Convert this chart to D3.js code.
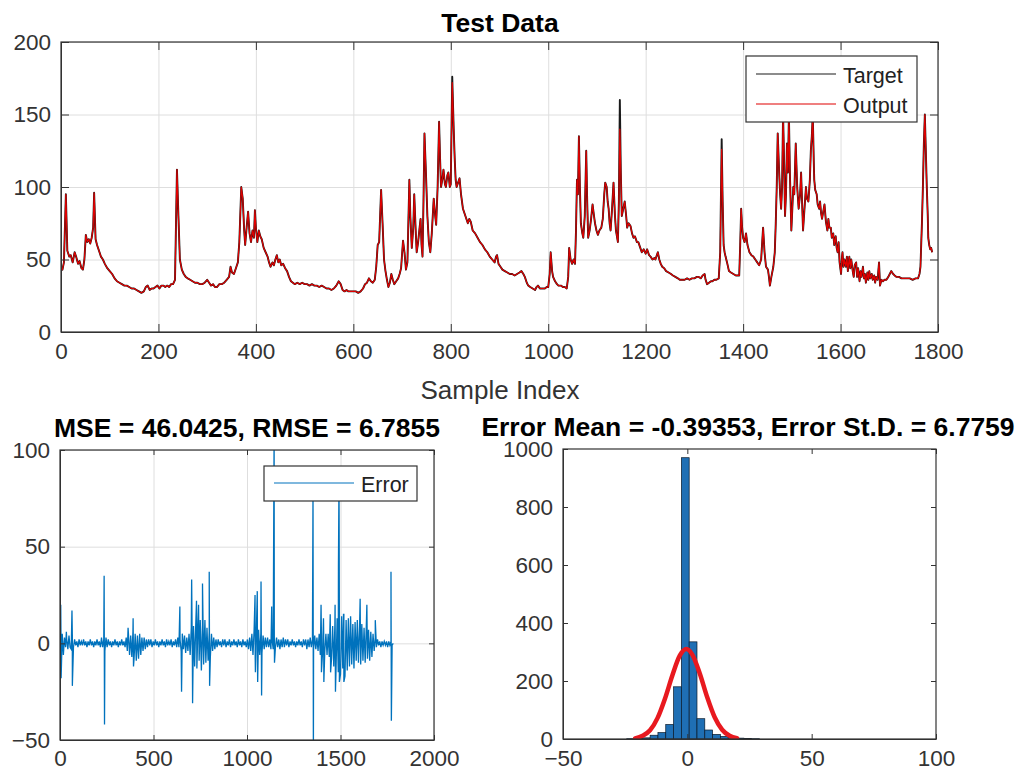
<!DOCTYPE html>
<html lang='en'>

<head>
    <meta charset='UTF-8'>
    <title>Test Data</title>
    <script src='https://d3js.org/d3.v7.min.js' charset='utf-8'></script>
    <style>
        body {
            margin: 0px;
            background: #fff;
            overflow: hidden;
        }

        text {
            font-family: 'Liberation Sans', Arial, sans-serif;
        }

        .grid line {
            stroke: #dedede;
            stroke-width: 1;
        }

        .tick-labels text {
            font-size: 22.5px;
            fill: #333;
        }

        .tick-labels line,
        .tick-labels path,
        .no-labels line {
            stroke: #333;
        }
    </style>
</head>

<body>
    <div id='chart'></div>
    <script>
        'use strict';

        // ---- data ----
        const topXTicks = [0, 200, 400, 600, 800, 1000, 1200, 1400, 1600, 1800];
        const topYTicks = [0, 50, 100, 150, 200];
        const errXTicks = [0, 500, 1000, 1500, 2000];
        const errYTicks = [-50, 0, 50, 100];
        const histXTicks = [-50, 0, 50, 100];
        const histYTicks = [0, 200, 400, 600, 800, 1000];

        // [sample index, value]
        const targetSeries = [
            [0, 45], [3, 43], [6, 48], [10, 95], [13, 56], [17, 52], [20, 53], [24, 48], [28, 55], [31, 52],
            [35, 47], [38, 49], [42, 44], [45, 43], [48, 50], [51, 67], [54, 62], [57, 64], [60, 61], [63, 65],
            [66, 72], [68, 96], [71, 64], [74, 60], [78, 56], [82, 52], [86, 50], [90, 47], [95, 44], [100, 42],
            [105, 40], [110, 37], [115, 35], [120, 34], [125, 33], [130, 32], [135, 32], [140, 31], [145, 30], [150, 30],
            [155, 29], [160, 28], [165, 27], [170, 28], [174, 31], [178, 32], [182, 29], [186, 30], [190, 30], [194, 31],
            [198, 32], [202, 30], [206, 32], [210, 32], [214, 31], [218, 32], [222, 31], [226, 33], [230, 33], [234, 36],
            [238, 112], [241, 80], [244, 50], [248, 43], [252, 40], [256, 38], [260, 37], [265, 36], [270, 35], [275, 34],
            [280, 34], [285, 33], [290, 33], [295, 34], [300, 36], [304, 34], [308, 32], [312, 33], [316, 31], [320, 31],
            [325, 33], [330, 33], [335, 34], [340, 36], [345, 38], [348, 45], [351, 41], [355, 40], [359, 44], [363, 48],
            [366, 62], [370, 100], [373, 92], [376, 70], [378, 60], [381, 72], [384, 83], [387, 68], [390, 62], [393, 70],
            [396, 65], [398, 84], [400, 72], [403, 62], [406, 70], [409, 66], [412, 64], [416, 58], [420, 55], [424, 52],
            [427, 48], [430, 45], [434, 48], [437, 46], [440, 50], [443, 53], [446, 48], [449, 50], [452, 46], [456, 47],
            [460, 44], [464, 42], [468, 38], [472, 35], [476, 34], [480, 33], [485, 34], [490, 33], [495, 34], [500, 33],
            [505, 33], [510, 32], [515, 33], [520, 32], [525, 32], [530, 31], [535, 32], [540, 31], [545, 30], [550, 30],
            [555, 29], [560, 30], [565, 32], [570, 35], [574, 33], [578, 29], [582, 28], [586, 29], [590, 28], [595, 28],
            [600, 28], [605, 28], [610, 27], [615, 28], [620, 30], [624, 33], [628, 34], [632, 37], [636, 35], [640, 34],
            [644, 36], [647, 45], [650, 60], [653, 62], [657, 98], [660, 75], [663, 50], [666, 42], [669, 36], [672, 31],
            [675, 34], [678, 40], [681, 36], [684, 33], [688, 35], [692, 37], [695, 40], [698, 44], [702, 63], [705, 55],
            [708, 43], [711, 48], [715, 105], [717, 80], [720, 58], [723, 72], [725, 95], [728, 70], [730, 55], [733, 62],
            [736, 72], [738, 78], [740, 60], [742, 52], [744, 90], [746, 137], [749, 110], [752, 80], [755, 62], [758, 55],
            [761, 68], [765, 92], [768, 80], [770, 74], [773, 100], [776, 145], [778, 120], [780, 100], [783, 106], [785, 112],
            [788, 102], [790, 100], [793, 108], [795, 110], [798, 100], [800, 102], [803, 176], [806, 140], [808, 120], [810, 105],
            [812, 100], [815, 103], [818, 106], [821, 95], [825, 85], [830, 80], [835, 75], [838, 78], [841, 76], [845, 70],
            [850, 68], [855, 65], [860, 62], [865, 60], [870, 57], [875, 55], [880, 52], [885, 50], [890, 48], [893, 52],
            [895, 53], [898, 47], [902, 45], [906, 43], [911, 42], [916, 41], [921, 40], [926, 40], [931, 39], [936, 40],
            [941, 41], [945, 42], [949, 40], [952, 38], [956, 34], [959, 32], [963, 31], [968, 30], [973, 29], [976, 31],
            [979, 32], [983, 30], [988, 30], [993, 30], [997, 31], [1000, 31], [1003, 40], [1005, 55], [1008, 42], [1010, 38],
            [1014, 35], [1018, 33], [1021, 32], [1026, 32], [1030, 31], [1034, 31], [1038, 30], [1041, 38], [1043, 58], [1046, 50],
            [1049, 47], [1052, 50], [1055, 47], [1057, 70], [1059, 105], [1061, 95], [1063, 135], [1065, 100], [1067, 75], [1070, 68],
            [1072, 65], [1075, 80], [1078, 125], [1080, 90], [1082, 65], [1085, 70], [1088, 78], [1091, 88], [1094, 80], [1096, 75],
            [1099, 70], [1102, 67], [1105, 70], [1109, 72], [1112, 78], [1115, 95], [1117, 103], [1120, 100], [1122, 90], [1124, 85],
            [1126, 75], [1128, 70], [1131, 85], [1134, 103], [1137, 80], [1139, 70], [1141, 66], [1143, 62], [1145, 90], [1147, 160],
            [1149, 110], [1151, 80], [1154, 85], [1157, 90], [1160, 80], [1162, 72], [1165, 75], [1169, 73], [1172, 68], [1175, 65],
            [1178, 66], [1182, 62], [1185, 62], [1189, 58], [1192, 55], [1196, 57], [1200, 54], [1203, 57], [1207, 53], [1210, 52],
            [1214, 50], [1218, 51], [1220, 50], [1223, 53], [1225, 55], [1228, 50], [1231, 47], [1234, 45], [1238, 44], [1242, 42],
            [1247, 41], [1252, 40], [1256, 39], [1261, 38], [1266, 37], [1270, 36], [1275, 36], [1280, 36], [1285, 37], [1290, 36],
            [1295, 37], [1300, 37], [1305, 38], [1309, 38], [1313, 37], [1317, 39], [1321, 40], [1323, 36], [1326, 33], [1330, 34],
            [1334, 35], [1337, 35], [1341, 36], [1345, 36], [1350, 37], [1353, 55], [1356, 133], [1358, 90], [1360, 60], [1362, 55],
            [1364, 52], [1367, 48], [1371, 42], [1375, 41], [1380, 40], [1385, 39], [1389, 39], [1392, 39], [1394, 60], [1396, 85],
            [1398, 72], [1400, 65], [1403, 62], [1406, 68], [1409, 60], [1413, 55], [1417, 53], [1421, 52], [1425, 50], [1429, 48],
            [1433, 46], [1437, 50], [1441, 72], [1444, 55], [1447, 45], [1451, 43], [1453, 38], [1455, 32], [1458, 38], [1462, 45],
            [1465, 55], [1467, 75], [1469, 100], [1471, 137], [1474, 110], [1476, 95], [1478, 85], [1480, 100], [1482, 150], [1484, 120],
            [1486, 80], [1488, 95], [1490, 130], [1492, 110], [1494, 150], [1496, 110], [1499, 70], [1501, 85], [1503, 100], [1505, 95],
            [1508, 130], [1511, 100], [1514, 85], [1517, 95], [1519, 110], [1521, 90], [1523, 70], [1526, 85], [1529, 100], [1531, 92],
            [1534, 90], [1537, 105], [1539, 125], [1541, 135], [1543, 150], [1545, 118], [1546, 105], [1548, 98], [1551, 95], [1553, 88],
            [1556, 85], [1558, 90], [1560, 82], [1562, 78], [1565, 84], [1567, 88], [1570, 76], [1573, 70], [1575, 78], [1577, 72],
            [1580, 72], [1582, 65], [1585, 68], [1587, 60], [1590, 66], [1592, 58], [1594, 55], [1596, 62], [1598, 48], [1601, 40],
            [1603, 52], [1604, 55], [1606, 45], [1608, 50], [1611, 45], [1613, 52], [1615, 42], [1618, 52], [1620, 44], [1622, 50],
            [1625, 42], [1627, 38], [1629, 46], [1632, 48], [1634, 38], [1636, 44], [1639, 35], [1641, 42], [1643, 38], [1646, 45],
            [1648, 37], [1650, 40], [1652, 34], [1655, 41], [1657, 36], [1659, 42], [1661, 37], [1664, 40], [1666, 36], [1669, 39],
            [1671, 34], [1673, 38], [1676, 36], [1679, 48], [1681, 32], [1684, 36], [1687, 35], [1690, 36], [1694, 36], [1698, 38],
            [1701, 40], [1704, 42], [1708, 40], [1711, 39], [1715, 38], [1720, 38], [1725, 37], [1730, 37], [1736, 37], [1742, 37],
            [1748, 36], [1754, 37], [1759, 37], [1762, 40], [1764, 45], [1767, 75], [1769, 100], [1771, 130], [1773, 150], [1775, 125],
            [1777, 100], [1779, 80], [1780, 65], [1782, 60], [1784, 57], [1786, 58], [1788, 55]
        ];
        // where the network output visibly differs from the target
        const outputDiffs = [[1147, 140], [1356, 126], [803, 172]];

        // error: background noise every 6 samples, plus the large spikes
        const errStep = 6;
        const errNoise = [
            8, -7, 5, -6, 3, -2, 2, -3, 4, -2,
            -3, 4, -2, 2, -1, 1, -2, 2, -1, 1,
            -1, 2, -1, 1, -2, 1, -1, 2, -1, 1,
            -2, 1, -1, 2, -1, 1, -2, 3, -2, 2,
            -4, 3, -2, 2, -1, 1, -2, 1, -1, 2,
            -1, 1, -2, 1, -1, 2, -1, 1, -2, 3,
            -4, 5, -6, 4, -7, 6, -8, 5, -9, 4,
            -8, 5, -6, 3, -4, 3, -3, 2, -2, 2,
            -1, 2, -2, 1, -1, 2, -1, 1, -2, 1,
            -1, 2, -1, 1, -2, 2, -1, 1, -1, 2,
            -2, 1, -1, 2, -2, 3, -2, 2, -4, 5,
            -3, 4, -5, 3, -4, 5, -6, 8, -10, 9,
            -12, 10, -13, 11, -9, 12, -14, 10, -11, 9,
            -10, 8, -9, 6, -7, 5, -4, 3, -3, 2,
            -2, 2, -1, 1, -2, 2, -1, 2, -2, 1,
            -1, 2, -2, 1, -1, 2, -1, 1, -2, 2,
            -1, 1, -2, 2, -1, 1, -2, 2, -3, 3,
            -4, 5, -6, 7, -8, 6, -9, 7, -6, 5,
            -5, 4, -3, 3, -2, 3, -2, 2, -3, 2,
            -3, 4, -2, 3, -2, 2, -3, 2, -2, 3,
            -2, 2, -1, 2, -2, 1, -1, 2, -1, 1,
            -2, 1, -1, 2, -1, 1, -2, 2, -1, 2,
            -3, 2, -2, 3, -2, 2, -3, 4, -3, 3,
            -4, 5, -6, 4, -5, 6, -4, 5, -6, 5,
            -7, 6, -8, 9, -12, 10, -14, 13, -15, 12,
            -16, 14, -13, 15, -17, 12, -14, 13, -12, 14,
            -11, 10, -13, 11, -9, 12, -10, 9, -11, 10,
            -9, 8, -10, 9, -8, 7, -9, 6, -7, 5,
            -4, 3, -2, 2, -1, 1, -2, 1, -1, 1,
            -1, 1, -2, 1, -1, 1, -1, 0
        ];
        const errSpikes = [
            [4, 20], [6, -18], [34, 6], [64, 17], [66, -22], [236, 35], [238, -42], [364, 8], [391, 13], [393, -12],
            [641, 19], [650, -25], [704, 33], [709, -31], [730, 22], [741, 20], [762, 31], [775, 12], [798, 37], [800, -22],
            [1043, 25], [1045, -15], [1055, 27], [1057, -20], [1075, 32], [1078, -27], [1132, 19], [1145, 110], [1147, -10],
            [1353, 80], [1355, -60], [1396, 20], [1398, -15], [1409, 13], [1411, -20], [1445, 15], [1447, -15], [1471, 20],
            [1473, -25], [1489, 40], [1492, 85], [1494, -20], [1516, 15], [1518, -20], [1605, 23], [1641, 20], [1686, 12],
            [1770, 37], [1772, -40]
        ];

        // histogram bins and counts
        const histEdges = [-24.38, -21.24, -18.1, -14.96, -11.82, -8.68, -5.54, -2.4, 0.74, 3.88,
            7.02, 10.16, 13.3, 16.44, 19.58, 22.72, 25.86, 29.0];
        const histCounts = [1, 2, 4, 13, 22, 50, 180, 970, 335, 70, 31, 16, 9, 5, 3, 2, 1];
        // fitted normal curve, read as points
        const fitX = [-21, -18, -15, -12, -9, -6, -3, -0.4, 2, 5, 8, 11, 14, 17, 20];
        const fitY = [2, 11, 30, 72, 139, 220, 288, 310, 291, 226, 144, 75, 32, 11, 3];

        const titles = {
            top: 'Test Data',
            err: 'MSE = 46.0425, RMSE = 6.7855',
            hist: 'Error Mean = -0.39353, Error St.D. = 6.7759'
        };

        // ---- drawing ----
        const svg = d3.select('#chart')
            .append('svg')
            .attr('width', 1028)
            .attr('height', 776);
        svg.append('rect').attr('width', 1028).attr('height', 776).attr('fill', '#fff');

        const fmt = d3.format('d');
        let clipCount = 0;

        function makePanel(left, top, right, bottom, xDomain, yDomain, xTicks, yTicks, grid) {
            const w = right - left, h = bottom - top;
            const g = svg.append('g').attr('transform', `translate(${left}, ${top})`);
            const x = d3.scaleLinear().domain(xDomain).range([0, w]);
            const y = d3.scaleLinear().domain(yDomain).range([h, 0]);
            if (grid) {
                g.append('g')
                    .attr('class', 'grid')
                    .attr('transform', `translate(0, ${h})`)
                    .call(d3.axisBottom(x).tickValues(xTicks).tickSize(-h).tickFormat(''))
                    .call(a => a.select('.domain').remove());
                g.append('g')
                    .attr('class', 'grid')
                    .call(d3.axisLeft(y).tickValues(yTicks).tickSize(-w).tickFormat(''))
                    .call(a => a.select('.domain').remove());
            }
            const clipId = 'clip' + (clipCount++);
            g.append('clipPath').attr('id', clipId)
                .append('rect').attr('width', w).attr('height', h);
            const plot = g.append('g').attr('clip-path', `url(#${clipId})`);
            return { g, x, y, w, h, plot, xTicks, yTicks };
        }

        function finishPanel(p, tickLen, xPad) {
            const { g, x, y, w, h, xTicks, yTicks } = p;
            g.append('g')
                .attr('class', 'tick-labels')
                .attr('transform', `translate(0, ${h})`)
                .call(d3.axisBottom(x).tickValues(xTicks).tickFormat(fmt)
                    .tickSizeInner(-tickLen).tickSizeOuter(0).tickPadding(xPad))
                .call(a => a.selectAll('text').attr('font-size', null).attr('font-family', null));
            g.append('g')
                .attr('class', 'tick-labels')
                .call(d3.axisLeft(y).tickValues(yTicks).tickFormat(fmt)
                    .tickSizeInner(-tickLen).tickSizeOuter(0).tickPadding(10))
                .call(a => a.selectAll('text').attr('font-size', null).attr('font-family', null));
            g.append('g')
                .attr('class', 'no-labels')
                .call(d3.axisTop(x).tickValues(xTicks).tickSizeInner(-tickLen).tickSizeOuter(0).tickFormat(''))
                .call(a => a.select('.domain').remove());
            g.append('g')
                .attr('class', 'no-labels')
                .attr('transform', `translate(${w}, 0)`)
                .call(d3.axisRight(y).tickValues(yTicks).tickSizeInner(-tickLen).tickSizeOuter(0).tickFormat(''))
                .call(a => a.select('.domain').remove());
            g.append('rect')
                .attr('width', w).attr('height', h)
                .attr('fill', 'none')
                .attr('stroke', '#333')
                .attr('stroke-width', 1.2);
        }

        function addTitle(text, cx, baseline) {
            svg.append('text')
                .attr('x', cx).attr('y', baseline)
                .attr('text-anchor', 'middle')
                .attr('font-weight', 'bold')
                .attr('font-size', '26.5px')
                .attr('fill', '#000')
                .text(text);
        }

        function addLegend(x0, y0, w, h, items) {
            const lg = svg.append('g').attr('transform', `translate(${x0}, ${y0})`);
            lg.append('rect')
                .attr('width', w).attr('height', h)
                .attr('fill', '#fff')
                .attr('stroke', '#333')
                .attr('stroke-width', 1.2);
            items.forEach(it => {
                lg.append('line')
                    .attr('x1', 10).attr('x2', 90)
                    .attr('y1', it.y).attr('y2', it.y)
                    .attr('stroke', it.color)
                    .attr('stroke-width', 1.2);
                lg.append('text')
                    .attr('x', 97).attr('y', it.y + 8.5)
                    .attr('font-size', '21.5px')
                    .attr('fill', '#222')
                    .text(it.label);
            });
        }

        // ---- top: Target vs Output ----
        const topPanel = makePanel(61, 42, 938, 332, [0, 1800], [0, 200], topXTicks, topYTicks, true);
        const topLine = d3.line().x(d => topPanel.x(d[0])).y(d => topPanel.y(d[1]));
        const diffMap = new Map(outputDiffs.map(d => [d[0], d[1]]));
        const outputSeries = targetSeries.map(d => [d[0], diffMap.has(d[0]) ? diffMap.get(d[0]) : d[1]]);

        topPanel.plot.append('path')
            .datum(targetSeries)
            .attr('d', topLine)
            .attr('fill', 'none')
            .attr('stroke', '#1a1a1a')
            .attr('stroke-width', 1.9)
            .attr('stroke-linejoin', 'round');
        topPanel.plot.append('path')
            .datum(outputSeries)
            .attr('d', topLine)
            .attr('fill', 'none')
            .attr('stroke', '#e00000')
            .attr('stroke-width', 1.2)
            .attr('stroke-linejoin', 'round');
        finishPanel(topPanel, 8, 11);
        addTitle(titles.top, 500, 32);
        svg.append('text')
            .attr('x', 500).attr('y', 399)
            .attr('text-anchor', 'middle')
            .attr('font-size', '26px')
            .attr('fill', '#333')
            .text('Sample Index');
        addLegend(746, 56, 171, 66, [
            { label: 'Target', color: '#1a1a1a', y: 18 },
            { label: 'Output', color: '#e00000', y: 48 }
        ]);

        // ---- bottom left: Error ----
        const errPanel = makePanel(60, 450, 434, 740, [0, 2000], [-50, 100], errXTicks, errYTicks, true);
        const errSeries = errNoise.map((v, k) => [k * errStep, v])
            .concat(errSpikes)
            .sort((a, b) => a[0] - b[0]);
        errPanel.plot.append('path')
            .datum(errSeries)
            .attr('d', d3.line().x(d => errPanel.x(d[0])).y(d => errPanel.y(d[1])))
            .attr('fill', 'none')
            .attr('stroke', '#0072BD')
            .attr('stroke-width', 1.3);
        finishPanel(errPanel, 5, 10);
        addTitle(titles.err, 247, 437);
        addLegend(264, 466, 153, 35, [
            { label: 'Error', color: '#0072BD', y: 17 }
        ]);

        // ---- bottom right: histogram with fit ----
        const histPanel = makePanel(563, 449, 936, 739, [-50, 100], [0, 1000], histXTicks, histYTicks, false);
        const bins = histCounts.map((c, i) => ({ lo: histEdges[i], hi: histEdges[i + 1], count: c }));
        histPanel.plot.selectAll('rect.bar')
            .data(bins)
            .enter()
            .append('rect')
            .attr('class', 'bar')
            .attr('x', d => histPanel.x(d.lo))
            .attr('y', d => histPanel.y(d.count))
            .attr('width', d => histPanel.x(d.hi) - histPanel.x(d.lo))
            .attr('height', d => histPanel.y(0) - histPanel.y(d.count))
            .attr('fill', '#1f6fb4')
            .attr('stroke', '#0a1a2a')
            .attr('stroke-width', 0.7);
        histPanel.plot.append('path')
            .datum(fitX.map((v, i) => [v, fitY[i]]))
            .attr('d', d3.line().curve(d3.curveMonotoneX).x(d => histPanel.x(d[0])).y(d => histPanel.y(d[1])))
            .attr('fill', 'none')
            .attr('stroke', '#e8191f')
            .attr('stroke-width', 4.5)
            .attr('stroke-linecap', 'round');
        finishPanel(histPanel, 5, 11);
        addTitle(titles.hist, 748, 436);
    </script>
</body>

</html>
